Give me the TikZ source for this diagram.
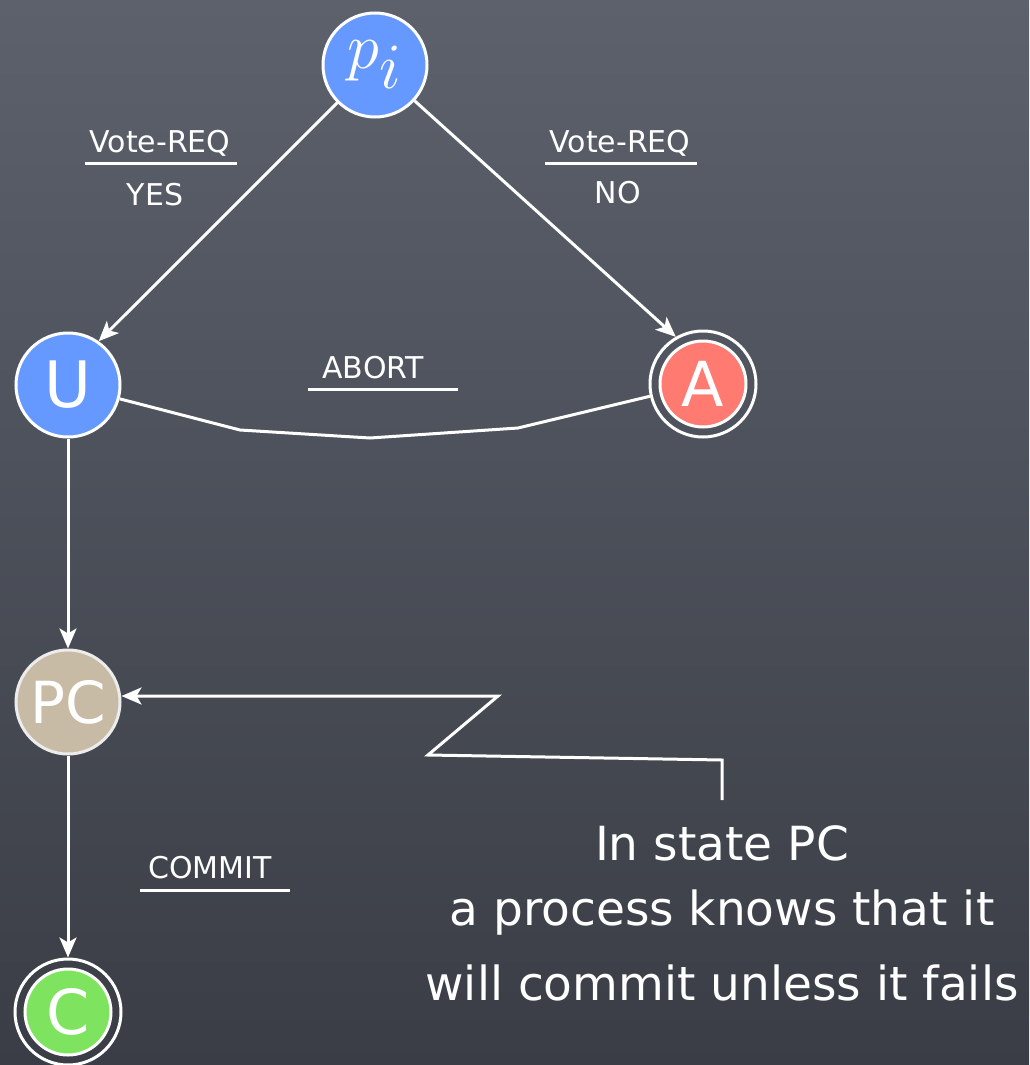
\documentclass[tikz,border=0pt]{standalone}
\usepackage{fontspec}
\usepackage{graphicx}
\setmainfont{DejaVu Sans}
\usetikzlibrary{arrows.meta}
\definecolor{bgtop}{RGB}{92,97,108}
\definecolor{bgbot}{RGB}{58,61,69}
\definecolor{nblue}{RGB}{102,153,255}
\definecolor{nred}{RGB}{255,122,112}
\definecolor{ntan}{RGB}{200,187,165}
\definecolor{ngreen}{RGB}{126,228,96}
\tikzset{
  x=1pt, y=-1pt,
  wline/.style={draw=white, line width=3pt},
  tip/.style={-{Stealth[length=20pt,width=17pt,inset=5pt]}},
  arr/.style={wline, tip},
  state/.style={circle, draw=white, line width=3pt, minimum size=104pt, inner sep=0pt, text=white, font=\fontsize{64}{70}\selectfont},
  inner/.style={circle, draw=white, line width=3pt, minimum size=86pt, inner sep=0pt, text=white, font=\fontsize{62}{70}\selectfont},
  ring/.style={circle, draw=white, line width=3pt, minimum size=106pt, inner sep=0pt},
  lbl/.style={text=white, font=\fontsize{30}{36}\selectfont, inner sep=0pt},
  big/.style={text=white, font=\fontsize{47}{56}\selectfont, inner sep=0pt}
}
\begin{document}
\begin{tikzpicture}
\shade[top color=bgtop, bottom color=bgbot] (0,0) rectangle (1029,1065);
\useasboundingbox (0,0) rectangle (1029,1065);

% states
\node[state, fill=nblue] (p) at (375,65) {\raisebox{-4pt}{\scalebox{2.6}{$p_i$}}};
\node[state, fill=nblue] (U) at (68,385) {U};
\node[ring] (Ao) at (703,384) {};
\node[inner, fill=nred] (A) at (703,384) {A};
\node[state, fill=ntan, draw=white!85!gray, font=\fontsize{58}{64}\selectfont] (PC) at (68,702) {PC};
\node[ring] (Co) at (68,1012) {};
\node[inner, fill=ngreen] (C) at (68,1012) {C};

% transitions
\draw[arr] (p) -- (Ao.120);
\draw[arr] (p) -- (U.55);
\draw[wline] (U.-15) -- (240,430) -- (370,438) -- (518,428) -- (Ao.193);
\draw[arr] (U) -- (PC);
\draw[arr] (PC) -- (Co);

% labels
\node[lbl] (l1) at (160,143) {Vote-REQ};
\draw[wline] (85,163) -- (237,163);
\node[lbl] (l1b) at (155,195) {YES};
\node[lbl] (l2) at (620,143) {Vote-REQ};
\draw[wline] (545,163) -- (697,163);
\node[lbl] (l2b) at (618,193) {NO};
\node[lbl] (l3) at (373,368) {ABORT};
\draw[wline] (308,389) -- (458,389);
\node[lbl] (l4) at (210,868) {COMMIT};
\draw[wline] (140,890) -- (290,890);

% annotation
\node[big] (t1) at (722,843) {In state PC};
\node[big] (t2) at (722,913) {a process knows that it};
\node[big] (t3) at (722,983) {will commit unless it fails};
\coordinate (k1) at (722,800);
\coordinate (k2) at (722,760);
\coordinate (k3) at (428,755);
\coordinate (k4) at (498,696);
\draw[wline, tip] (k1) -- (k2) -- (k3) -- (k4) -- (PC.east |- k4);
\end{tikzpicture}
\end{document}
